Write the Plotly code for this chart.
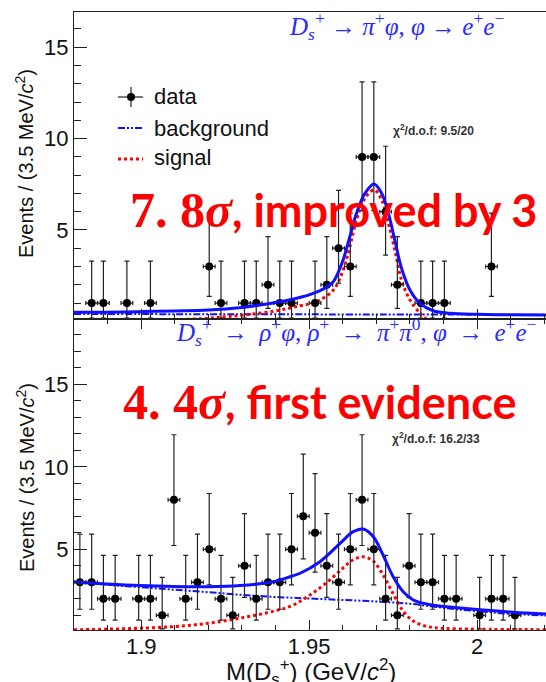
import plotly.graph_objects as go

# ---------------- data ----------------
BIN_W = 0.0035
X_MIN = 1.88
X_MAX = 2.0205

# top panel: D_s+ -> pi+ phi, phi -> e+e-
top_bins = [1, 2, 4, 6, 11, 12, 14, 15, 16, 17, 18, 20, 21, 22, 23, 24, 25, 26, 27, 29, 30, 31, 35]
top_counts = [1, 1, 1, 1, 3, 1, 1, 1, 2, 1, 1, 1, 2, 4, 3, 9, 9, 6, 2, 1, 1, 1, 3]

top_total_x = [1.880, 1.890, 1.900, 1.910, 1.920, 1.930, 1.9354, 1.9410, 1.9463, 1.9512, 1.9550,
               1.9572, 1.9601, 1.9621, 1.9641, 1.9666, 1.9693, 1.9716, 1.9736, 1.9756, 1.9775,
               1.9800, 1.9830, 1.9869, 1.9919, 2.000, 2.0068, 2.0205]
top_total_y = [0.49, 0.50, 0.53, 0.57, 0.62, 0.76, 0.89, 1.06, 1.26, 1.53, 1.85,
               2.17, 3.36, 4.63, 5.91, 7.00, 7.52, 7.00, 5.91, 4.36, 2.90,
               1.71, 0.98, 0.58, 0.44, 0.38, 0.36, 0.35]
top_bkg_x = [1.880, 1.950, 2.0205]
top_bkg_y = [0.40, 0.38, 0.36]
top_sig_x = [1.910, 1.9195, 1.925, 1.9304, 1.9403, 1.9473, 1.9522, 1.9572, 1.9601, 1.9621,
             1.9641, 1.9666, 1.9693, 1.9716, 1.9736, 1.9756, 1.9775, 1.9800, 1.9830, 1.9850]
top_sig_y = [0.08, 0.16, 0.25, 0.34, 0.58, 0.85, 1.07, 1.71, 2.80, 4.08,
             5.54, 6.73, 7.19, 6.64, 5.36, 3.81, 2.26, 1.17, 0.44, 0.10]

# bottom panel: D_s+ -> rho+ phi
bot_bins = [0, 1, 2, 3, 5, 6, 7, 8, 9, 10, 11, 12, 13, 14, 15, 16, 17, 18, 19, 20, 21, 22, 23,
            24, 25, 26, 27, 28, 29, 30, 31, 32, 34, 35, 36, 37]
bot_counts = [3, 3, 2, 2, 2, 2, 1, 8, 2, 3, 5, 2, 1, 4, 2, 3, 3, 5, 7, 6, 4, 3, 5,
              8, 5, 2, 1, 4, 3, 3, 2, 2, 1, 2, 2, 1]

bot_total_x = [1.880, 1.8897, 1.8996, 1.9096, 1.9195, 1.9294, 1.9393, 1.9443, 1.9473, 1.9532,
               1.9592, 1.9631, 1.9661, 1.9691, 1.9720, 1.9750, 1.9780, 1.9810, 1.9860, 1.9909,
               2.0008, 2.0107, 2.0205]
bot_total_y = [3.02, 2.90, 2.80, 2.74, 2.73, 2.80, 3.04, 3.34, 3.55, 4.25,
               5.36, 6.07, 6.23, 5.76, 4.65, 3.34, 2.43, 1.93, 1.64, 1.52,
               1.34, 1.19, 1.08]
bot_bkg_x = [1.880, 1.890, 1.900, 1.910, 1.920, 1.930, 1.940, 1.950, 1.960, 1.970, 1.980,
             1.990, 2.000, 2.010, 2.0205]
bot_bkg_y = [3.03, 2.85, 2.70, 2.55, 2.40, 2.24, 2.11, 2.02, 1.93, 1.84, 1.70,
             1.45, 1.25, 1.09, 0.99]
bot_sig_x = [1.880, 1.890, 1.900, 1.910, 1.920, 1.930, 1.940, 1.945, 1.950, 1.955, 1.960,
             1.963, 1.966, 1.969, 1.972, 1.975, 1.978, 1.981, 1.985, 1.990, 2.000, 2.0205]
bot_sig_y = [0.12, 0.16, 0.22, 0.32, 0.52, 0.85, 1.28, 1.60, 2.20, 2.95, 3.85,
             4.35, 4.55, 4.30, 3.45, 2.30, 1.25, 0.65, 0.33, 0.21, 0.16, 0.13]

# Poisson 68% interval half-widths (RooFit style) for counts n
POIS_LO = {1: 0.827, 2: 1.291, 3: 1.633, 4: 1.914, 5: 2.159, 6: 2.379, 7: 2.580, 8: 2.768, 9: 2.943}
POIS_HI = {1: 2.299, 2: 2.637, 3: 2.918, 4: 3.162, 5: 3.382, 6: 3.583, 7: 3.770, 8: 3.945, 9: 4.110}

# ---------------- geometry ----------------
W, H = 546, 682
L, R, T, B = 74, 0, 12, 52
PW, PH = W - L - R, H - T - B


def px(xp):
    return (xp - L) / PW


def py(yp):
    return (H - B - yp) / PH


SPLIT = py(319)

BLUE = "#1010ff"
HEAD_BLUE = "#2a2aff"
RED = "#ff0000"
SANS = "Liberation Sans, Arial, sans-serif"
SERIF = "Liberation Serif, Times New Roman, serif"

fig = go.Figure()


def add_panel(bins, counts, tx, ty, bx, by, sx, sy, xa, ya):
    xc = [X_MIN + BIN_W * (i + 0.5) for i in bins]
    fig.add_trace(go.Scatter(x=bx, y=by, mode="lines", xaxis=xa, yaxis=ya,
                             line=dict(color=BLUE, width=2, dash="7px,2px,2px,2px,2px,2px"),
                             line_shape="spline", showlegend=False, hoverinfo="skip"))
    fig.add_trace(go.Scatter(x=sx, y=sy, mode="lines", xaxis=xa, yaxis=ya,
                             line=dict(color=RED, width=3, dash="3px,3px"),
                             line_shape="spline", showlegend=False, hoverinfo="skip"))
    fig.add_trace(go.Scatter(
        x=xc, y=counts, mode="markers", xaxis=xa, yaxis=ya,
        marker=dict(color="black", size=8),
        error_y=dict(type="data", symmetric=False,
                     array=[POIS_HI[c] for c in counts],
                     arrayminus=[POIS_LO[c] for c in counts],
                     color="#222", thickness=1.2, width=2.5),
        error_x=dict(type="constant", value=BIN_W / 2, color="#222", thickness=1.2, width=2),
        showlegend=False, hoverinfo="skip"))
    fig.add_trace(go.Scatter(x=tx, y=ty, mode="lines", xaxis=xa, yaxis=ya,
                             line=dict(color=BLUE, width=3),
                             line_shape="spline", showlegend=False, hoverinfo="skip"))


add_panel(top_bins, top_counts, top_total_x, top_total_y, top_bkg_x, top_bkg_y,
          top_sig_x, top_sig_y, "x", "y")
add_panel(bot_bins, bot_counts, bot_total_x, bot_total_y, bot_bkg_x, bot_bkg_y,
          bot_sig_x, bot_sig_y, "x2", "y2")

axis_common = dict(showline=True, linecolor="#222", linewidth=1, showgrid=False, zeroline=False,
                   ticks="inside", tickcolor="#222", tickfont=dict(family=SANS, size=22, color="#111"))

fig.update_layout(
    width=W, height=H, margin=dict(l=L, r=R, t=T, b=B),
    paper_bgcolor="white", plot_bgcolor="white", showlegend=False,
    xaxis=dict(axis_common, domain=[0, 1], anchor="y", range=[X_MIN, X_MAX],
               tick0=1.9, dtick=0.05, ticklen=10, showticklabels=False, mirror=True,
               minor=dict(dtick=0.01, tick0=1.88, ticklen=5, ticks="inside", tickcolor="#222")),
    yaxis=dict(axis_common, domain=[SPLIT, 1], anchor="x", range=[0.126, 16.93],
               tickvals=[5, 10, 15], ticklen=13,
               minor=dict(dtick=1, tick0=0, ticklen=7, ticks="inside", tickcolor="#222")),
    xaxis2=dict(axis_common, domain=[0, 1], anchor="y2", range=[X_MIN, X_MAX],
                tickvals=[1.9, 1.95, 2.0], ticktext=["1.9", "1.95", "2"], ticklen=10, mirror="ticks",
                ticklabelstandoff=-3,
                minor=dict(dtick=0.01, tick0=1.88, ticklen=5, ticks="inside", tickcolor="#222")),
    yaxis2=dict(axis_common, domain=[0, SPLIT], anchor="x2", range=[0.11, 18.96],
                tickvals=[5, 10, 15], ticklen=13,
                minor=dict(dtick=1, tick0=0, ticklen=7, ticks="inside", tickcolor="#222")),
)

ann = []


def text(xp, yp, s, size, color="#111", family=SANS, xanchor="left", yanchor="middle", angle=0):
    ann.append(dict(x=px(xp), y=py(yp), xref="paper", yref="paper", text=s, showarrow=False,
                    xanchor=xanchor, yanchor=yanchor, textangle=angle,
                    font=dict(family=family, size=size, color=color)))


ARW = "\u2009 → \u2009"
# headers
text(287, 26, "<i>D</i><sub><i>s</i></sub><sup>+</sup> → <i>π</i><sup>+</sup><i>φ</i>, <i>φ</i> → <i>e</i><sup>+</sup><i>e</i><sup>−</sup>",
     25, HEAD_BLUE, SERIF)
text(174, 332, "<i>D</i><sub><i>s</i></sub><sup>+</sup>" + ARW + "<i>ρ</i><sup>+</sup><i>φ</i>, <i>ρ</i><sup>+</sup>"
     + ARW + "<i>π</i><sup>+</sup><i>π</i><sup>0</sup>, <i>φ</i>" + ARW + "<i>e</i><sup>+</sup><i>e</i><sup>−</sup>",
     25, HEAD_BLUE, SERIF)
# chi2
text(391, 130, "<b>χ<sup>2</sup>/d.o.f: 9.5/20</b>", 12, "#333")
text(390, 438, "<b>χ<sup>2</sup>/d.o.f: 16.2/33</b>", 12, "#333")
# legend texts
text(152, 97, "data", 22)
text(152, 128, "background", 22)
text(152, 158, "signal", 22)
# axis titles
text(25, 164, "Events / (3.5 MeV/<i>c</i><sup>2</sup>)", 20, angle=-90, xanchor="center")
text(25, 478, "Events / (3.5 MeV/<i>c</i><sup>2</sup>)", 20, angle=-90, xanchor="center")
text(311, 672, "M(D<sub>s</sub><sup>+</sup>) (GeV/<i>c</i><sup>2</sup>)", 24, xanchor="center")
# big red statements
SIG_SPAN = "<span style='font-family:Liberation Serif, serif;font-size:50px'>"
text(128, 210, "<b>" + SIG_SPAN + "7. 8<i>σ</i></span>, improved by 3</b>", 45, RED, "Lato, sans-serif")
text(121, 402, "<b>" + SIG_SPAN + "4. 4<i>σ</i></span>, first evidence</b>", 45, RED, "Lato, sans-serif")

# legend samples
shapes = [
    dict(type="line", xref="paper", yref="paper", x0=px(118), x1=px(143), y0=py(97), y1=py(97),
         line=dict(color="#222", width=1.2)),
    dict(type="line", xref="paper", yref="paper", x0=px(131), x1=px(131), y0=py(87), y1=py(107),
         line=dict(color="#222", width=1.2)),
    dict(type="circle", xref="paper", yref="paper", x0=px(127), x1=px(135), y0=py(93), y1=py(101),
         fillcolor="black", line=dict(color="black", width=0)),
    dict(type="line", xref="paper", yref="paper", x0=px(118), x1=px(143), y0=py(128), y1=py(128),
         line=dict(color=BLUE, width=2, dash="7px,2px,2px,2px,2px,2px")),
    dict(type="line", xref="paper", yref="paper", x0=px(118), x1=px(143), y0=py(159), y1=py(159),
         line=dict(color=RED, width=3, dash="3px,3px")),
]
fig.update_layout(annotations=ann, shapes=shapes)

fig.write_html("out.html")
